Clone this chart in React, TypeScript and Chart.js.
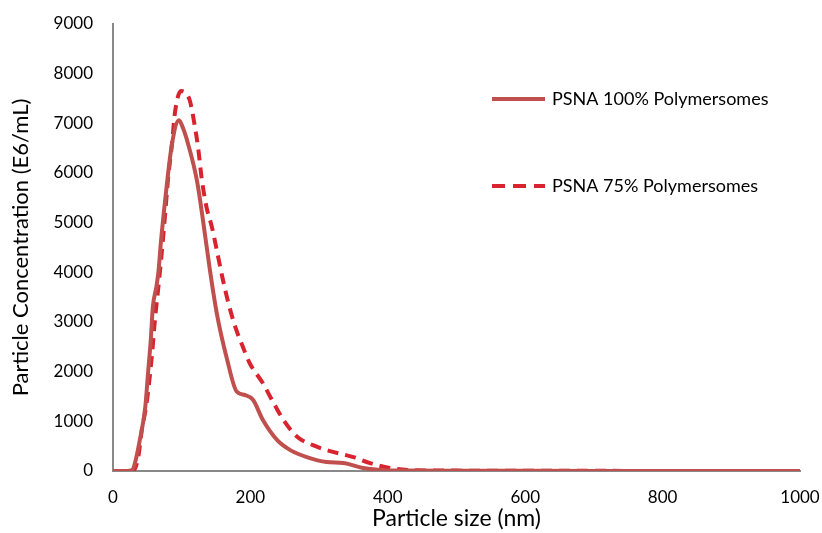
import React, { useEffect, useRef } from "react";
import { Chart, registerables } from "chart.js";

Chart.register(...registerables);

const seriesNames = ["PSNA 100% Polymersomes", "PSNA 75% Polymersomes"];

const sizes100 = [0, 20, 28, 32, 39, 47, 51, 55, 58, 63, 66, 70, 78, 86, 96, 102, 109, 122, 131, 141, 151, 166, 180, 192, 204, 218, 239, 258, 282, 311, 335, 364, 389, 420, 500, 600, 700, 800, 900, 1000];
const conc100 = [0, 0, 20, 160, 620, 1290, 1970, 2640, 3300, 3700, 3990, 4650, 5720, 6600, 7060, 6900, 6600, 5860, 5050, 4050, 3180, 2250, 1600, 1530, 1430, 1030, 620, 420, 280, 180, 160, 60, 20, 8, 5, 3, 2, 1, 1, 0];

const sizes75 = [0, 20, 30, 37, 42, 49, 57, 61, 66, 70, 76, 80, 86, 90, 99, 105, 112, 119, 124, 129, 136, 144, 151, 160, 168, 178, 189, 199, 218, 233, 248, 268, 291, 316, 350, 374, 403, 432, 500, 600, 700, 800, 900, 1000];
const conc75 = [0, 0, 10, 300, 830, 1370, 2380, 3040, 3700, 4250, 5190, 5860, 6600, 7200, 7650, 7620, 7450, 6950, 6500, 5900, 5320, 4910, 4450, 3850, 3380, 2900, 2500, 2170, 1770, 1390, 1030, 690, 520, 400, 280, 160, 60, 20, 8, 5, 3, 2, 1, 0];

const xTicks = [0, 200, 400, 600, 800, 1000];
const yTicks = [0, 1000, 2000, 3000, 4000, 5000, 6000, 7000, 8000, 9000];

const color100 = "#C0504D";
const color75 = "#D9232E";
const FONT = "Lato, 'Open Sans', sans-serif";

export default function App() {
  const ref = useRef<HTMLCanvasElement | null>(null);

  useEffect(() => {
    if (!ref.current) return;
    const legendPlugin = {
      id: "customLegend",
      afterDraw(chart: any) {
        const ctx = chart.ctx;
        ctx.save();
        const items = [
          { y: 99, color: color100, dash: [] as number[], text: seriesNames[0] },
          { y: 186, color: color75, dash: [13, 8], text: seriesNames[1] },
        ];
        for (const it of items) {
          ctx.beginPath();
          ctx.setLineDash(it.dash);
          ctx.strokeStyle = it.color;
          ctx.lineWidth = 4;
          ctx.moveTo(492, it.y);
          ctx.lineTo(545, it.y);
          ctx.stroke();
          ctx.setLineDash([]);
          ctx.fillStyle = "#000";
          ctx.font = "18px " + FONT;
          ctx.textBaseline = "middle";
          ctx.textAlign = "left";
          ctx.fillText(it.text, 552, it.y);
        }
        ctx.restore();
      },
    };
    const chart = new Chart(ref.current, {
      type: "line",
      data: {
        datasets: [
          {
            label: seriesNames[0],
            data: sizes100.map((x, i) => ({ x, y: conc100[i] })),
            borderColor: color100,
            borderWidth: 4,
            pointRadius: 0,
            cubicInterpolationMode: "monotone",
            fill: false,
          },
          {
            label: seriesNames[1],
            data: sizes75.map((x, i) => ({ x, y: conc75[i] })),
            borderColor: color75,
            borderWidth: 4,
            borderDash: [11, 7],
            pointRadius: 0,
            cubicInterpolationMode: "monotone",
            fill: false,
          },
        ],
      },
      options: {
        animation: false,
        responsive: false,
        maintainAspectRatio: false,
        layout: { padding: { left: 0, right: 22, top: 24, bottom: 0 } },
        plugins: { legend: { display: false }, tooltip: { enabled: false } },
        scales: {
          x: {
            type: "linear",
            min: 0,
            max: 1000,
            afterBuildTicks(scale: any) {
              scale.ticks = xTicks.map((v) => ({ value: v }));
            },
            afterFit(scale: any) {
              scale.height = 533 - 471;
              scale.paddingLeft = 0;
              scale.paddingRight = 0;
            },
            grid: { display: false, drawTicks: false },
            border: { display: true, color: "#898989", width: 2 },
            ticks: {
              color: "#000",
              font: { size: 17, family: FONT },
              padding: 16,
              maxRotation: 0,
              callback: (v: any) => String(v),
            },
            title: {
              display: true,
              text: "Particle size (nm)",
              color: "#000",
              font: { size: 23, family: FONT },
              padding: { top: 0, bottom: 1 },
            },
          },
          y: {
            type: "linear",
            min: 0,
            max: 9000,
            afterBuildTicks(scale: any) {
              scale.ticks = yTicks.map((v) => ({ value: v }));
            },
            afterFit(scale: any) {
              scale.width = 113;
              scale.paddingTop = 0;
              scale.paddingBottom = 0;
            },
            grid: { display: false, drawTicks: false },
            border: { display: true, color: "#898989", width: 2 },
            ticks: {
              color: "#000",
              font: { size: 17, family: FONT },
              padding: 20,
              callback: (v: any) => String(v),
            },
            title: {
              display: true,
              text: "Particle Concentration (E6/mL)",
              color: "#000",
              font: { size: 22, family: FONT },
              padding: { top: 8, bottom: 0 },
            },
          },
        },
      },
      plugins: [legendPlugin],
    });
    return () => chart.destroy();
  }, []);

  return (
    <div style={{ position: "fixed", left: 0, top: 0, width: 822, height: 533, background: "#fff" }}>
      <canvas ref={ref} width={822} height={533} style={{ width: 822, height: 533 }} />
    </div>
  );
}
